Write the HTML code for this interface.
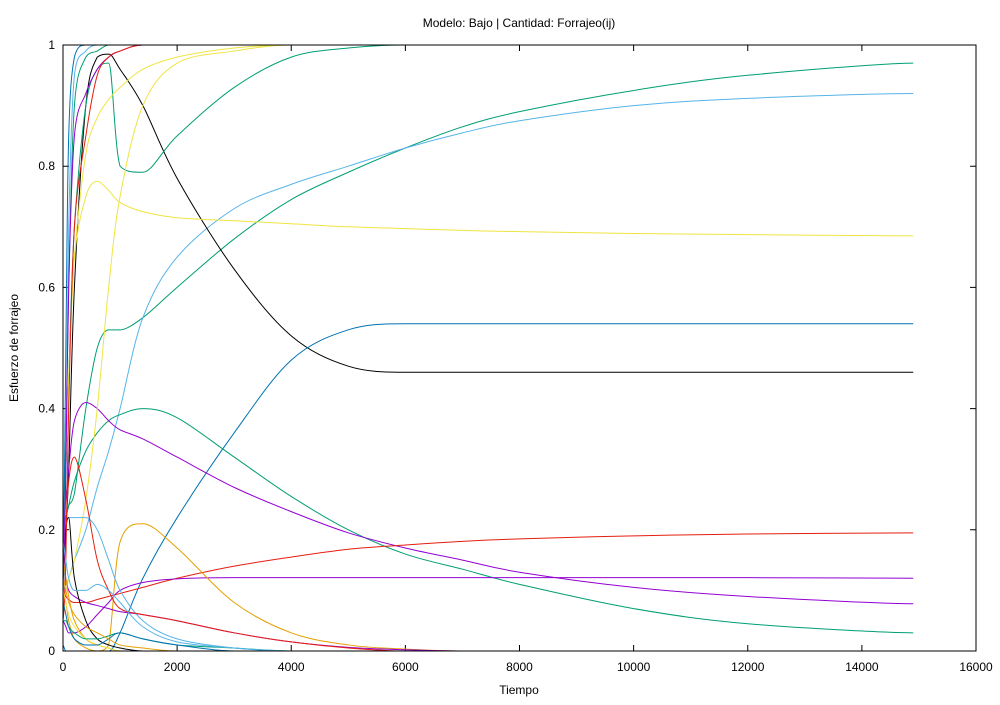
<!DOCTYPE html>
<html><head><meta charset="utf-8"><style>
body{margin:0;background:#fff;font-family:"Liberation Sans",sans-serif;}
text{font-family:"Liberation Sans",sans-serif;font-size:12px;fill:#000}
</style></head><body>
<svg id="chart" width="1000" height="700" xmlns="http://www.w3.org/2000/svg">
<text x="519" y="27" text-anchor="middle">Modelo: Bajo | Cantidad: Forrajeo(ij)</text>
<text x="519" y="694" text-anchor="middle">Tiempo</text>
<text transform="translate(18,348) rotate(-90)" text-anchor="middle">Esfuerzo de forrajeo</text>
<g id="axes"></g>
<g id="series"></g>
<rect x="63" y="45" width="913" height="606" fill="none" stroke="#000" stroke-width="1"/>
</svg>
<script>
const xTicks=[0,2000,4000,6000,8000,10000,12000,14000,16000];
const yTicks=[0,0.2,0.4,0.6,0.8,1];
const yTickLabels=["0","0.2","0.4","0.6","0.8","1"];
const times=[0,50,100,200,400,600,800,1000,1400,2000,3000,4000,5000,6000,7000,8000,10000,12000,14900];
const colors=["#009e73","#56b4e9","#000000","#f0e442","#0072b2","#009e73","#9400d3","#e51e10","#9400d3","#e69f00","#009e73","#f0e442","#f0e442","#9400d3","#56b4e9","#e51e10","#009e73","#0072b2","#56b4e9","#000000","#e69f00","#9400d3","#e51e10","#f0e442","#009e73","#0072b2","#56b4e9","#e69f00"];
const seriesValues=[
[0.2,0.22,0.24,0.26,0.4,0.5,0.53,0.53,0.55,0.6,0.68,0.745,0.79,0.83,0.865,0.89,0.925,0.95,0.97],
[0.1,0.11,0.12,0.15,0.2,0.27,0.33,0.4,0.55,0.65,0.73,0.77,0.8,0.83,0.855,0.875,0.9,0.912,0.92],
[0.15,0.2,0.3,0.6,0.9,0.98,0.985,0.96,0.9,0.78,0.63,0.52,0.47,0.46,0.46,0.46,0.46,0.46,0.46],
[0.15,0.3,0.45,0.65,0.75,0.775,0.76,0.74,0.725,0.715,0.71,0.705,0.70,0.697,0.694,0.692,0.689,0.687,0.685],
[0.01,0,0,0,0,0,0,0.03,0.12,0.22,0.36,0.48,0.53,0.54,0.54,0.54,0.54,0.54,0.54],
[0.2,0.22,0.24,0.28,0.33,0.36,0.38,0.39,0.4,0.385,0.32,0.255,0.2,0.16,0.135,0.11,0.07,0.045,0.03],
[0.2,0.25,0.3,0.38,0.41,0.4,0.38,0.365,0.35,0.32,0.27,0.23,0.195,0.17,0.15,0.13,0.105,0.09,0.078],
[0.1,0.09,0.085,0.08,0.08,0.085,0.09,0.095,0.105,0.12,0.14,0.155,0.168,0.175,0.181,0.185,0.19,0.193,0.195],
[0.05,0.04,0.03,0.03,0.04,0.06,0.08,0.1,0.113,0.119,0.121,0.121,0.121,0.121,0.121,0.121,0.121,0.121,0.12],
[0.1,0.08,0.05,0.02,0.005,0,0.01,0.18,0.21,0.17,0.08,0.03,0.01,0.003,0,0,0,0,0],
[0.2,0.3,0.45,0.7,0.9,0.96,0.97,0.8,0.79,0.85,0.93,0.98,0.995,1,1,1,1,1,1],
[0.1,0.1,0.12,0.15,0.25,0.4,0.6,0.75,0.9,0.97,0.99,1,1,1,1,1,1,1,1],
[0.2,0.3,0.45,0.65,0.82,0.88,0.91,0.93,0.96,0.98,0.995,1,1,1,1,1,1,1,1],
[0.15,0.12,0.1,0.09,0.08,0.075,0.07,0.065,0.06,0.05,0.03,0.015,0.006,0.002,0,0,0,0,0],
[0.2,0.21,0.22,0.22,0.22,0.2,0.15,0.1,0.05,0.02,0.005,0,0,0,0,0,0,0,0],
[0.1,0.2,0.28,0.32,0.25,0.15,0.1,0.07,0.06,0.05,0.03,0.015,0.005,0,0,0,0,0,0],
[0.2,0.35,0.6,0.9,0.98,0.99,1,1,1,1,1,1,1,1,1,1,1,1,1],
[0.1,0.5,0.85,0.98,1,1,1,1,1,1,1,1,1,1,1,1,1,1,1],
[0.05,0.3,0.7,0.95,0.99,1,1,1,1,1,1,1,1,1,1,1,1,1,1],
[0.12,0.2,0.22,0.12,0.05,0.02,0.01,0.005,0,0,0,0,0,0,0,0,0,0,0],
[0.15,0.12,0.09,0.05,0.02,0.01,0.005,0,0,0,0,0,0,0,0,0,0,0,0],
[0.1,0.3,0.6,0.85,0.92,0.96,0.98,0.99,1,1,1,1,1,1,1,1,1,1,1],
[0.05,0.15,0.4,0.7,0.85,0.95,0.98,0.99,1,1,1,1,1,1,1,1,1,1,1],
[0.1,0.08,0.06,0.04,0.02,0.01,0.005,0,0,0,0,0,0,0,0,0,0,0,0],
[0.05,0.05,0.04,0.03,0.02,0.02,0.025,0.03,0.02,0.01,0.005,0,0,0,0,0,0,0,0],
[0.08,0.06,0.04,0.02,0.01,0.01,0.02,0.03,0.02,0.01,0,0,0,0,0,0,0,0,0],
[0.18,0.15,0.12,0.1,0.1,0.11,0.1,0.08,0.04,0.015,0.005,0,0,0,0,0,0,0,0],
[0.12,0.1,0.08,0.06,0.04,0.03,0.02,0.01,0.005,0,0,0,0,0,0,0,0,0,0]
];
const X0=63,X1=976,Y0=651,Y1=45;
const xs=t=>X0+(t/16000)*(X1-X0);
const ys=v=>Y0-v*(Y0-Y1);
const NS="http://www.w3.org/2000/svg";
const axes=document.getElementById('axes');
function mk(tag,attrs,parent){const e=document.createElementNS(NS,tag);for(const k in attrs)e.setAttribute(k,attrs[k]);parent.appendChild(e);return e;}
xTicks.forEach(t=>{
  const x=xs(t);
  const l=mk('path',{d:`M${x},${Y0}v-6M${x},${Y1}v6`,stroke:'#000'},axes);
  
  
  const tx=mk('text',{x:x,y:Y0+20,'text-anchor':'middle'},axes);tx.textContent=t;
  
  
});
yTicks.forEach((v,i)=>{
  const y=ys(v);
  const l=mk('path',{d:`M${X0},${y}h6M${X1},${y}h-6`,stroke:'#000'},axes);
  
  
  const tx=mk('text',{x:X0-8,y:y+4,'text-anchor':'end'},axes);tx.textContent=yTickLabels[i];
  
  
});
function clamp(v,a,b){return Math.max(Math.min(a,b),Math.min(Math.max(a,b),v));}
function smooth(pts){
  let d=`M${pts[0][0]},${pts[0][1]}`;
  for(let i=0;i<pts.length-1;i++){
    const p0=pts[Math.max(i-1,0)],p1=pts[i],p2=pts[i+1],p3=pts[Math.min(i+2,pts.length-1)];
    const k=1/6;
    let c1y=p1[1]+(p2[1]-p0[1])*k,c2y=p2[1]-(p3[1]-p1[1])*k;
    if((p1[1]-p0[1])*(p2[1]-p1[1])<=0) c1y=p1[1];
    if((p2[1]-p1[1])*(p3[1]-p2[1])<=0) c2y=p2[1];
    c1y=clamp(c1y,p1[1],p2[1]);c2y=clamp(c2y,p1[1],p2[1]);
    d+=` C${p1[0]+(p2[0]-p0[0])*k},${c1y} ${p2[0]-(p3[0]-p1[0])*k},${c2y} ${p2[0]},${p2[1]}`;
  }
  return d;
}
const sg=document.getElementById('series');
seriesValues.forEach((vals,i)=>{
  const pts=vals.map((v,j)=>[xs(times[j]),ys(v)]);
  const p=mk('path',{d:smooth(pts),fill:'none',stroke:colors[i%colors.length],'stroke-width':1},sg);
  
  
});
</script>
</body></html>
